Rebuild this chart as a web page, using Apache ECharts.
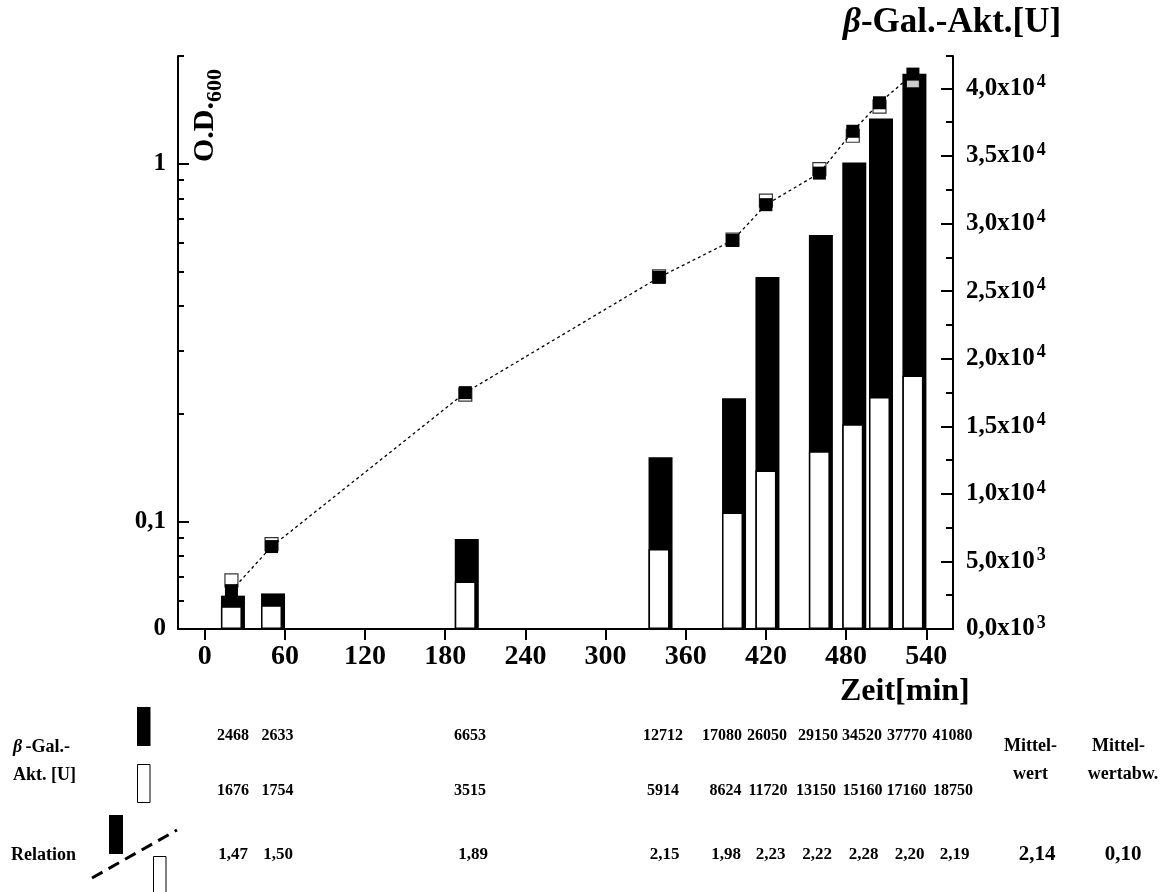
<!DOCTYPE html>
<html><head><meta charset="utf-8">
<script src="https://cdn.jsdelivr.net/npm/echarts@6/dist/echarts.min.js"></script>
<style>html,body{margin:0;padding:0;background:#fff}#c{width:1162px;height:892px}</style>
</head><body><div id="c"></div>
<script>
// ---- data ----
const times = [20, 50, 195, 340, 395, 420, 460, 485, 505, 530];
const galBlack = [2468, 2633, 6653, 12712, 17080, 26050, 29150, 34520, 37770, 41080];
const galWhite = [1676, 1754, 3515, 5914, 8624, 11720, 13150, 15160, 17160, 18750];
const odFilled = [0.064, 0.085, 0.229, 0.481, 0.61, 0.768, 0.941, 1.232, 1.48, 1.78];
const odOpen = [0.0684, 0.0863, 0.226, 0.484, 0.613, 0.788, 0.965, 1.197, 1.443, 1.70];
const relation = ['1,47', '1,50', '1,89', '2,15', '1,98', '2,23', '2,22', '2,28', '2,20', '2,19'];
const mittelwert = '2,14';
const mittelwertAbw = '0,10';
const xTickValues = [0, 60, 120, 180, 240, 300, 360, 420, 480, 540];
const odMajor = [0.05, 0.1, 1];
const odMinor = [0.06, 0.07, 0.08, 0.09, 0.2, 0.3, 0.4, 0.5, 0.6, 0.7, 0.8, 0.9, 2];
const galMajor = [0, 5000, 10000, 15000, 20000, 25000, 30000, 35000, 40000];
const galMinor = [2500, 7500, 12500, 17500, 22500, 27500, 32500, 37500, 42400];

// ---- layout (table column positions, px) ----
const row1X = [233, 277.5, 470, 663, 722, 767, 818, 862, 907, 952.5];
const row2X = [233, 277.5, 470, 663, 725.5, 768, 816, 862.5, 906.5, 953];
const row3X = [233, 278, 473, 664.5, 726, 770.5, 817, 863.5, 909.5, 954.5];
const rowY = [736, 791, 855];

const FF = '"Liberation Serif", "Times New Roman", serif';
function T(text, x, y, size, align, extra) {
  const st = {text: String(text), font: 'bold ' + size + 'px ' + FF, fill: '#000',
    textAlign: align || 'center', textVerticalAlign: 'middle'};
  if (extra) Object.assign(st, extra);
  return {type: 'text', x: x, y: y, style: st, z: 100};
}

const graphics = [];
// titles
graphics.push({type: 'text', x: 843, y: 23, z: 100, style: {
  text: '{i|β}{b|-Gal.-Akt.[U]}', textAlign: 'left', textVerticalAlign: 'middle', fill: '#000',
  rich: {i: {fontFamily: FF, fontSize: 35, fontWeight: 'bold', fontStyle: 'italic'},
         b: {fontFamily: FF, fontSize: 35, fontWeight: 'bold'}}}});
graphics.push(T('Zeit[min]', 840, 692, 32, 'left'));
graphics.push({type: 'text', x: 205, y: 162, rotation: Math.PI / 2, z: 100, style: {
  text: 'O.D.', font: 'bold 30px ' + FF, fill: '#000', textAlign: 'left', textVerticalAlign: 'middle'}});
graphics.push({type: 'text', x: 215, y: 102, rotation: Math.PI / 2, z: 100, style: {
  text: '600', font: 'bold 22px ' + FF, fill: '#000', textAlign: 'left', textVerticalAlign: 'middle'}});

// table
graphics.push({type: 'text', x: 13, y: 747, z: 100, style: {
  text: '{i|β} {b|-Gal.-}', textAlign: 'left', textVerticalAlign: 'middle', fill: '#000',
  rich: {i: {fontFamily: FF, fontSize: 18, fontWeight: 'bold', fontStyle: 'italic'},
         b: {fontFamily: FF, fontSize: 18, fontWeight: 'bold'}}}});
graphics.push(T('Akt. [U]', 13, 775, 18, 'left'));
graphics.push(T('Relation', 11, 855, 18, 'left'));
graphics.push({type: 'rect', shape: {x: 137, y: 707, width: 13.5, height: 39}, style: {fill: '#000'}, z: 100});
graphics.push({type: 'rect', shape: {x: 137.5, y: 764.5, width: 12.5, height: 38}, style: {fill: '#fff', stroke: '#000', lineWidth: 1}, z: 100});
graphics.push({type: 'rect', shape: {x: 109, y: 815, width: 14, height: 39}, style: {fill: '#000'}, z: 100});
graphics.push({type: 'rect', shape: {x: 153.5, y: 856.5, width: 12.5, height: 40}, style: {fill: '#fff', stroke: '#000', lineWidth: 1}, z: 100});
graphics.push({type: 'line', shape: {x1: 92, y1: 878, x2: 177, y2: 830}, style: {stroke: '#000', lineWidth: 3, lineDash: [12, 7]}, z: 100});

galBlack.forEach((v, i) => graphics.push(T(v, row1X[i], rowY[0], 16, 'center')));
galWhite.forEach((v, i) => graphics.push(T(v, row2X[i], rowY[1], 16, 'center')));
relation.forEach((v, i) => graphics.push(T(v, row3X[i], rowY[2], 17, 'center')));
graphics.push(T('Mittel-', 1030.5, 746, 18, 'center'));
graphics.push(T('wert', 1030.5, 774, 18, 'center'));
graphics.push(T('Mittel-', 1118.5, 746, 18, 'center'));
graphics.push(T('wertabw.', 1123, 774, 18, 'center'));
graphics.push(T(mittelwert, 1037, 855, 21, 'center'));
graphics.push(T(mittelwertAbw, 1123, 855, 21, 'center'));

function galLabel(v) {
  let m, e;
  if (v < 10000) { m = (v / 1000).toFixed(1); e = 3; } else { m = (v / 10000).toFixed(1); e = 4; }
  return '{m|' + m.replace('.', ',') + 'x10}{s|' + e + '}';
}
function odLabel(v) {
  if (v > 0.5) return '1';
  if (v > 0.08) return '0,1';
  return '0';
}

const axisLine = {show: true, onZero: false, lineStyle: {color: '#000', width: 2}};
const chart = echarts.init(document.getElementById('c'), null, {renderer: 'canvas'});
chart.setOption({
  animation: false,
  backgroundColor: '#fff',
  grid: {left: 178, right: 209, top: 56, bottom: 263, containLabel: false},
  xAxis: {
    type: 'value', min: -20, max: 560,
    axisLine: axisLine,
    axisTick: {show: true, customValues: xTickValues, length: 11, inside: false, lineStyle: {color: '#000', width: 2}},
    axisLabel: {show: true, customValues: xTickValues, margin: 14, color: '#000', fontFamily: FF, fontWeight: 'bold', fontSize: 28},
    splitLine: {show: false}
  },
  yAxis: [
    {
      type: 'log', logBase: 10, min: 0.05, max: 2, position: 'left',
      axisLine: axisLine,
      axisTick: {show: true, customValues: odMajor, inside: true, length: 11, lineStyle: {color: '#000', width: 2}},
      axisLabel: {show: true, customValues: odMajor, formatter: odLabel, margin: 12, color: '#000', fontFamily: FF, fontWeight: 'bold', fontSize: 25},
      splitLine: {show: false}
    },
    {
      type: 'value', min: 0, max: 42400, position: 'right',
      axisLine: axisLine,
      axisTick: {show: true, customValues: galMajor, inside: true, length: 12, lineStyle: {color: '#000', width: 2}},
      axisLabel: {show: true, customValues: galMajor, formatter: galLabel, margin: 13, color: '#000',
        rich: {m: {fontFamily: FF, fontWeight: 'bold', fontSize: 25, lineHeight: 30, color: '#000'},
               s: {fontFamily: FF, fontWeight: 'bold', fontSize: 18, lineHeight: 18, verticalAlign: 'top', padding: [0, 0, 0, 2], color: '#000'}}},
      splitLine: {show: false}
    },
    {
      type: 'log', logBase: 10, min: 0.05, max: 2, position: 'left',
      axisLine: {show: false, onZero: false},
      axisTick: {show: true, customValues: odMinor, inside: true, length: 6, lineStyle: {color: '#000', width: 2}},
      axisLabel: {show: false},
      splitLine: {show: false}
    },
    {
      type: 'value', min: 0, max: 42400, position: 'right',
      axisLine: {show: false, onZero: false},
      axisTick: {show: true, customValues: galMinor, inside: true, length: 7, lineStyle: {color: '#000', width: 2}},
      axisLabel: {show: false},
      splitLine: {show: false}
    }
  ],
  series: [
    {
      type: 'bar', name: 'black', xAxisIndex: 0, yAxisIndex: 1,
      data: times.map((t, i) => [t, galBlack[i]]),
      barWidth: 24, barGap: '-100%',
      itemStyle: {color: '#000'}
    },
    {
      type: 'bar', name: 'white', xAxisIndex: 0, yAxisIndex: 1,
      data: times.map((t, i) => [t, galWhite[i]]),
      barWidth: 21, barGap: '-100%',
      itemStyle: {color: '#fff', borderColor: '#000', borderWidth: 1.5}
    },
    {
      type: 'scatter', name: 'odOpen', xAxisIndex: 0, yAxisIndex: 0, z: 5,
      data: times.map((t, i) => [t, odOpen[i]]),
      symbol: 'rect', symbolSize: 13,
      itemStyle: {color: '#fff', borderColor: '#000', borderWidth: 1.2}
    },
    {
      type: 'line', name: 'odFilled', xAxisIndex: 0, yAxisIndex: 0, z: 6,
      data: times.map((t, i) => [t, odFilled[i]]),
      symbol: 'rect', symbolSize: 13, showSymbol: true,
      lineStyle: {color: '#000', width: 1.3, type: [3, 3]},
      itemStyle: {color: '#000', borderColor: '#000', borderWidth: 0}
    }
  ],
  graphic: graphics
});
</script>
</body></html>
